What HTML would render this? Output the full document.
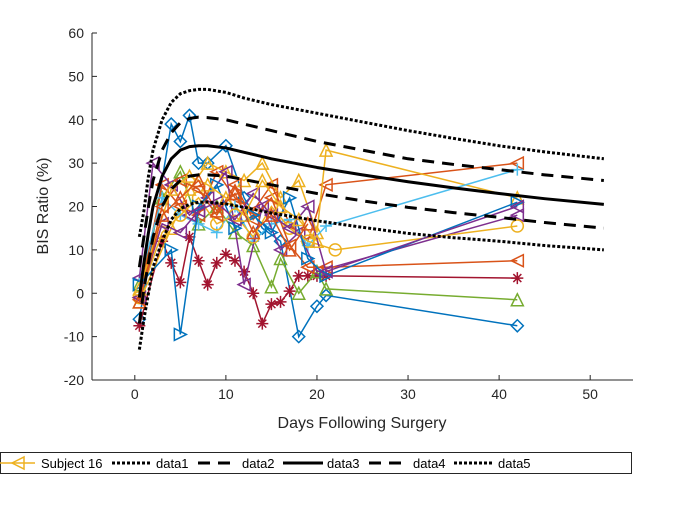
<!DOCTYPE html>
<html><head><meta charset="utf-8"><style>
body{margin:0;background:#fff;width:700px;height:525px;overflow:hidden}
svg{font-family:"Liberation Sans",Arial,sans-serif}
</style></head><body>
<svg id="c" width="700" height="525" viewBox="0 0 700 525">
<g id="axes"></g>
<g id="subjects"></g>
<g id="curves"></g>
<text x="362" y="428" font-size="16" text-anchor="middle" fill="#262626">Days Following Surgery</text>
<text x="0" y="0" font-size="16" text-anchor="middle" fill="#262626" transform="translate(48,206) rotate(-90)">BIS Ratio (%)</text>
<g id="legend">
<rect x="0.5" y="452.5" width="631" height="21" fill="#fff" stroke="#262626" stroke-width="1"/>
</g>
</svg>
<script>
const xTicks=[0,10,20,30,40,50];
const yTicks=[-20,-10,0,10,20,30,40,50,60];
const curveDays=[0.5,1,1.5,2,3,4,5,6,7,8,10,12,15,20,25,30,35,40,45,51.5];
const data1=[13,19,27,33,40,44,46,46.7,47,47,46.3,45,43.5,41.5,39.5,37.5,35.7,34,32.6,31];
const data2=[6,13,20,26,33,37,39.3,40.3,40.6,40.5,40,39,37.5,35,33,31,29.7,28.5,27.3,26];
const data3=[-1,7,14,20,27,31,33,33.8,34,34,33.5,32.5,31,29,27.3,25.7,24.3,23,21.8,20.5];
const data4=[-7,1,7,13,20,24,26,27,27.3,27.3,27,26.2,25,23,21.3,19.8,18.6,17.5,16.3,15];
const data5=[-13,-6,0,6,12,17,19.5,20.5,21,21,20.6,19.8,18.5,16.7,15.2,13.8,12.8,12,11,10];
const s1Days=[0.5,4,5,6,7,8,10,12,14,16,18,20,21,42];
const s1Vals=[-6,39,35,41,30,30,34,22,15,12,-10,-3,-0.5,-7.5];
const s2Days=[0.5,3,4,5,6,7,8,9,10,11,12,13,14,15,16,17,18,19,20,21,42];
const s2Vals=[-7.5,12,7,2.5,13,7.5,2,7,9,7.5,5,0,-7,-2.5,-2,0.5,4,4,4,4,3.5];
const s3Days=[0.5,3,5,7,9,11,13,15,16,18,20,21,42];
const s3Vals=[2,22,28,16,20,14,11,1.5,8,0,5,1,-1.5];
const s4Days=[0.5,3,5,7,9,11,13,15,17,19,21,42];
const s4Vals=[-1,25,20,18,28,22,19,25,16,12,25,30];
const s5Days=[0.5,4,6,8,10,12,14,16,18,20,21,42];
const s5Vals=[-2,15,24,30,28,26,30,22,26,14,33,22];
const s6Days=[0.5,3,5,7,9,11,13,15,17,19,21,42];
const s6Vals=[3,22,18,16,14,20,12,16,17,11,15.5,28.5];
const s7Days=[0.5,2,4,6,8,10,12,14,16,18,20,42];
const s7Vals=[3.5,30,25,18,22,28,2,20,10,14,5,18];
const s8Days=[0.5,3,5,7,9,11,13,15,17,19,22,42];
const s8Vals=[-1,14,18,22,16,18,13,20,15,12,10,15.5];
const s9Days=[0.5,3,5,7,9,11,13,15,17,19,21,42];
const s9Vals=[-1.5,20,26,24,18,25,17,22,11,6,6,7.5];
const s10Days=[0.5,4,5,7,9,11,13,15,17,19,21,42];
const s10Vals=[2,10,-9.5,20,25,15,18,14,22,8,4,21];
const s11Days=[0.5,3,5,7,9,11,13,15,17,19,21,42];
const s11Vals=[-1,16,14,19,21,17,23,18,15,20,5,20];
const s12Days=[0.5,4,6,8,10,12,14,16,18,20];
const s12Vals=[1,24,27,25,22,18,26,20,17,12];
const s13Days=[0.5,3,5,7,9,11,13,15,17,19];
const s13Vals=[-2,18,22,26,19,23,14,18,10,16];
const subjectDays=[s1Days,s2Days,s3Days,s4Days,s5Days,s6Days,s7Days,s8Days,s9Days,s10Days,s11Days,s12Days,s13Days];
const subjectVals=[s1Vals,s2Vals,s3Vals,s4Vals,s5Vals,s6Vals,s7Vals,s8Vals,s9Vals,s10Vals,s11Vals,s12Vals,s13Vals];
const subjectColors=['#0072BD','#A2142F','#77AC30','#D95319','#EDB120','#4DBEEE','#7E2F8E','#EDB120','#D95319','#0072BD','#7E2F8E','#EDB120','#D95319'];
const subjectMarkers=['diamond','asterisk','triup','trileft','triup','plus','trileft','circle','trileft','triright','trileft','triup','triup'];

const X0=-4.7,X1=54.7,Y0=-20,Y1=60;
const PL=92,PR=633,PT=33,PB=380;
const sx=v=>PL+(v-X0)/(X1-X0)*(PR-PL);
const sy=v=>PB-(v-Y0)/(Y1-Y0)*(PB-PT);
const NS='http://www.w3.org/2000/svg';
function mk(t,a,p){const e=document.createElementNS(NS,t);for(const k in a)e.setAttribute(k,a[k]);p.appendChild(e);return e;}
const ax=document.getElementById('axes');
let e=mk('line',{x1:PL,y1:PT,x2:PL,y2:PB,stroke:'#262626','stroke-width':1},ax);


e=mk('line',{x1:PL,y1:PB,x2:PR,y2:PB,stroke:'#262626','stroke-width':1},ax);


xTicks.forEach(t=>{mk('line',{x1:sx(t),y1:PB,x2:sx(t),y2:PB-5,stroke:'#262626'},ax);
const tx=mk('text',{x:sx(t),y:PB+19,'font-size':14,'text-anchor':'middle',fill:'#262626'},ax);tx.textContent=t;

});
yTicks.forEach(t=>{mk('line',{x1:PL,y1:sy(t),x2:PL+5,y2:sy(t),stroke:'#262626'},ax);
const tx=mk('text',{x:PL-8,y:sy(t)+5,'font-size':14,'text-anchor':'end',fill:'#262626'},ax);tx.textContent=t;

});

function marker(g,type,x,y,c){const r=6;let a={fill:'none',stroke:c,'stroke-width':1.5};
if(type==='diamond')mk('polygon',Object.assign({points:`${x},${y-r} ${x+r},${y} ${x},${y+r} ${x-r},${y}`},a),g);
else if(type==='triup')mk('polygon',Object.assign({points:`${x},${y-r} ${x+r},${y+r} ${x-r},${y+r}`},a),g);
else if(type==='trileft')mk('polygon',Object.assign({points:`${x-r},${y} ${x+r},${y-r} ${x+r},${y+r}`},a),g);
else if(type==='triright')mk('polygon',Object.assign({points:`${x+r},${y} ${x-r},${y-r} ${x-r},${y+r}`},a),g);
else if(type==='circle')mk('circle',Object.assign({cx:x,cy:y,r:r},a),g);
else if(type==='plus')mk('path',Object.assign({d:`M${x-r},${y}H${x+r}M${x},${y-r}V${y+r}`},a),g);
else if(type==='asterisk')mk('path',Object.assign({d:`M${x-r},${y}H${x+r}M${x},${y-r}V${y+r}M${x-4},${y-4}L${x+4},${y+4}M${x-4},${y+4}L${x+4},${y-4}`},a),g);}

const sg=document.getElementById('subjects');
subjectDays.forEach((d,i)=>{const g=mk('g',{},sg);


const v=subjectVals[i];
mk('polyline',{points:d.map((t,j)=>sx(t)+','+sy(v[j])).join(' '),fill:'none',stroke:subjectColors[i],'stroke-width':1.5},g);
d.forEach((t,j)=>marker(g,subjectMarkers[i],sx(t),sy(v[j]),subjectColors[i]));});

const cg=document.getElementById('curves');
const curves=[data1,data2,data3,data4,data5];
const dashes=['3,2','12,8','none','12,8','3,2'];
curves.forEach((c,i)=>{const p=mk('polyline',{points:curveDays.map((t,j)=>sx(t)+','+sy(c[j])).join(' '),fill:'none',stroke:'#000','stroke-width':3,'stroke-dasharray':dashes[i],'stroke-linejoin':'round'},cg);

});

const lg=document.getElementById('legend');
function lt(x,s){const t=mk('text',{x:x,y:468,'font-size':13,fill:'#000'},lg);t.textContent=s;

}
mk('line',{x1:0,y1:463,x2:35,y2:463,stroke:'#EDB120','stroke-width':1.5},lg);
marker(lg,'trileft',18,463,'#EDB120');
lt(41,'Subject 16');
const li=[[107,'3,2','data1'],[193,'12,8','data2'],[278,'none','data3'],[364,'12,8','data4'],[449,'3,2','data5']];
li.forEach(([x,d,s])=>{mk('line',{x1:x+5,y1:463,x2:x+45,y2:463,stroke:'#000','stroke-width':3,'stroke-dasharray':d},lg);lt(x+49,s);});
</script>
</body></html>
